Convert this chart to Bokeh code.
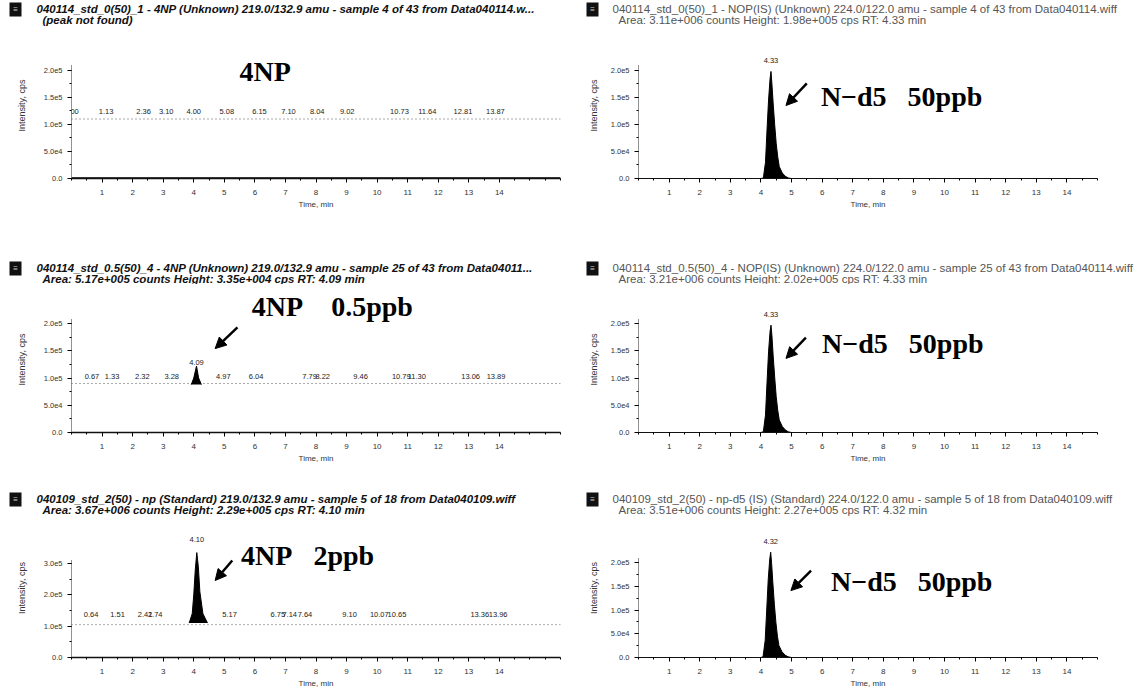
from bokeh.plotting import figure
from bokeh.models import (ColumnDataSource, LabelSet, Label, Arrow, NormalHead,
                          FixedTicker, CustomJSTickFormatter, Range1d, BoxAnnotation)
from bokeh.core.properties import value
from bokeh.layouts import column, row
from bokeh.embed import file_html
from bokeh.resources import INLINE

# ---------------- data ----------------
x_major_ticks = [1, 2, 3, 4, 5, 6, 7, 8, 9, 10, 11, 12, 13, 14]
y_ticks_std = [0, 50000, 100000, 150000, 200000]
y_ticks_bl = [0, 100000, 200000, 300000]

# Top-left: 4NP blank (peak not found)
tl_trace_time = [0.0, 16.0]
tl_trace_int = [0, 0]
tl_noise_time = [0.0, 16.0]
tl_noise_int = [110000, 110000]
tl_label_rt = [0.00, 1.13, 2.36, 3.10, 4.00, 5.08, 6.15, 7.10, 8.04, 9.02, 10.73, 11.64, 12.81, 13.87]
tl_label_int = [110000, 110000, 110000, 110000, 110000, 110000, 110000, 110000, 110000, 110000, 110000, 110000, 110000, 110000]
tl_label_txt = ["0.00", "1.13", "2.36", "3.10", "4.00", "5.08", "6.15", "7.10", "8.04", "9.02", "10.73", "11.64", "12.81", "13.87"]

# Middle-left: 4NP 0.5 ppb
ml_noise_time = [0.0, 16.0]
ml_noise_int = [90000, 90000]
ml_peak_time = [3.92, 4.00, 4.09, 4.16, 4.25]
ml_peak_int = [88000, 100000, 122000, 100000, 88000]
ml_label_rt = [0.67, 1.33, 2.32, 3.28, 4.97, 6.04, 7.79, 8.22, 9.46, 10.79, 11.30, 13.06, 13.89]
ml_label_int = [90000, 90000, 90000, 90000, 90000, 90000, 90000, 90000, 90000, 90000, 90000, 90000, 90000]
ml_label_txt = ["0.67", "1.33", "2.32", "3.28", "4.97", "6.04", "7.79", "8.22", "9.46", "10.79", "11.30", "13.06", "13.89"]
ml_apex = (4.09, 122000, "4.09")

# Bottom-left: 4NP 2 ppb
bl_noise_time = [0.0, 16.0]
bl_noise_int = [105000, 105000]
bl_peak_time = [3.85, 3.95, 4.00, 4.05, 4.10, 4.15, 4.20, 4.30, 4.45]
bl_peak_int = [110000, 140000, 200000, 280000, 335000, 290000, 210000, 140000, 110000]
bl_label_rt = [0.64, 1.51, 2.41, 2.74, 5.17, 6.75, 7.14, 7.64, 9.10, 10.07, 10.65, 13.36, 13.96]
bl_label_int = [105000, 105000, 105000, 105000, 105000, 105000, 105000, 105000, 105000, 105000, 105000, 105000, 105000]
bl_label_txt = ["0.64", "1.51", "2.41", "2.74", "5.17", "6.75", "7.14", "7.64", "9.10", "10.07", "10.65", "13.36", "13.96"]
bl_apex = (4.10, 335000, "4.10")

# Right column: N-d5 internal standard 50 ppb
is_time = [0.0, 4.00, 4.08, 4.15, 4.20, 4.25, 4.30, 4.33, 4.36, 4.40, 4.45, 4.50, 4.55, 4.60, 4.70, 4.80, 4.90, 5.00, 15.0]
tr_int = [0, 0, 1000, 30000, 90000, 145000, 185000, 198000, 175000, 140000, 100000, 65000, 40000, 22000, 10000, 4000, 1000, 0, 0]
mr_int = [0, 0, 1500, 32000, 92000, 148000, 186000, 197000, 178000, 142000, 102000, 66000, 41000, 23000, 11000, 4500, 1200, 0, 0]
br_time = [0.0, 4.00, 4.07, 4.14, 4.19, 4.24, 4.29, 4.32, 4.35, 4.39, 4.44, 4.49, 4.54, 4.59, 4.69, 4.79, 4.89, 5.00, 15.0]
br_int = [0, 0, 1500, 36000, 100000, 165000, 208000, 222000, 198000, 158000, 112000, 74000, 45000, 25000, 12000, 5000, 1500, 0, 0]
tr_apex = (4.33, 198000, "4.33")
mr_apex = (4.33, 197000, "4.33")
br_apex = (4.32, 222000, "4.32")

headers = {
    "TL": ("040114_std_0(50)_1 - 4NP (Unknown) 219.0/132.9 amu - sample 4 of 43 from Data040114.w...",
           "(peak not found)"),
    "TR": ("040114_std_0(50)_1 - NOP(IS) (Unknown) 224.0/122.0 amu - sample 4 of 43 from Data040114.wiff",
           "Area: 3.11e+006 counts Height: 1.98e+005 cps RT: 4.33 min"),
    "ML": ("040114_std_0.5(50)_4 - 4NP (Unknown) 219.0/132.9 amu - sample 25 of 43 from Data04011...",
           "Area: 5.17e+005 counts Height: 3.35e+004 cps RT: 4.09 min"),
    "MR": ("040114_std_0.5(50)_4 - NOP(IS) (Unknown) 224.0/122.0 amu - sample 25 of 43 from Data040114.wiff",
           "Area: 3.21e+006 counts Height: 2.02e+005 cps RT: 4.33 min"),
    "BL": ("040109_std_2(50) - np (Standard) 219.0/132.9 amu - sample 5 of 18 from Data040109.wiff",
           "Area: 3.67e+006 counts Height: 2.29e+005 cps RT: 4.10 min"),
    "BR": ("040109_std_2(50) - np-d5 (IS) (Standard) 224.0/122.0 amu - sample 5 of 18 from Data040109.wiff",
           "Area: 3.51e+006 counts Height: 2.27e+005 cps RT: 4.32 min"),
}

# ---------------- helpers ----------------
FMT = CustomJSTickFormatter(code="""
if (tick == 0) return "0.0";
const e = Math.floor(Math.log10(Math.abs(tick)) + 1e-9);
const m = tick / Math.pow(10, e);
return m.toFixed(1) + "e" + e;
""")

SANS = "Liberation Sans"
SERIF = "Liberation Serif"
NB = "\u00a0"


def header_fig(width, height, page_left, key, left_side, icon_top, l1_y, l2_y):
    h = figure(width=width, height=height, output_backend="svg", toolbar_location=None,
               x_range=Range1d(0, width), y_range=Range1d(0, height),
               x_axis_type=None, y_axis_type=None, min_border=0, frame_align=False)
    h.outline_line_color = None
    h.grid.visible = False
    icon_x = (9 if left_side else 586) - page_left
    text_x = (36 if left_side else 612) - page_left
    h.add_layout(BoxAnnotation(left=icon_x, right=icon_x + 12, top=height - icon_top,
                               bottom=height - icon_top - 14, fill_color="#111111",
                               fill_alpha=1.0, line_color=None))
    h.add_layout(Label(x=icon_x + 6, y=height - icon_top - 7, text="≡", text_color="#cccccc",
                       text_font=SANS, text_font_size="8px", text_align="center",
                       text_baseline="middle"))
    style = "bold italic" if left_side else "normal"
    col = "#111111" if left_side else "#555555"
    fs = "11.5px"
    l1, l2 = headers[key]
    h.add_layout(Label(x=text_x, y=height - l1_y, text=l1, text_font=SANS, text_font_size=fs,
                       text_font_style=style, text_color=col, text_baseline="middle",
                       text_align="left"))
    h.add_layout(Label(x=text_x + 6, y=height - l2_y, text=l2, text_font=SANS, text_font_size=fs,
                       text_font_style=style, text_color=col, text_baseline="middle",
                       text_align="left"))
    return h


def make_panel(width, height, b_left, b_right, frame_h, x_end, y_end, yticks, yminor,
               y_bound, left_side):
    b_top = 2
    b_bottom = height - b_top - frame_h
    p = figure(width=width, height=height, output_backend="svg", toolbar_location=None,
               x_range=Range1d(0, x_end), y_range=Range1d(0, y_end),
               min_border_left=b_left, min_border_right=b_right,
               min_border_top=b_top, min_border_bottom=b_bottom, frame_align=False)
    p.outline_line_color = None
    p.grid.visible = False

    xa = p.xaxis[0]
    xa.ticker = FixedTicker(ticks=x_major_ticks, minor_ticks=[i * 0.5 for i in range(0, 33)])
    xa.axis_label = "Time, min"
    xa.axis_label_text_font = SANS
    xa.axis_label_text_font_size = "8px"
    xa.axis_label_text_font_style = "normal"
    xa.axis_label_text_color = "#333333"
    xa.axis_label_standoff = 2
    xa.major_label_text_font = SANS
    xa.major_label_text_font_size = "8px"
    xa.major_label_text_color = "#333333"
    xa.major_label_standoff = 7
    xa.major_tick_out = 4
    xa.major_tick_in = 0
    xa.minor_tick_out = 2
    xa.minor_tick_in = 0
    xa.axis_line_width = 1.6 if left_side else 1.2
    xa.axis_line_color = "#111111"

    ya = p.yaxis[0]
    ya.ticker = FixedTicker(ticks=yticks, minor_ticks=yminor)
    ya.formatter = FMT
    ya.bounds = (0, y_bound)
    ya.axis_label = "Intensity, cps"
    ya.axis_label_text_font = SANS
    ya.axis_label_text_font_size = "9px"
    ya.axis_label_text_font_style = "normal"
    ya.axis_label_text_color = "#333333"
    ya.axis_label_standoff = 14 if left_side else 9
    ya.major_label_text_font = SANS
    ya.major_label_text_font_size = "7.5px"
    ya.major_label_text_color = "#333333"
    ya.major_label_standoff = 5
    ya.major_tick_out = 4
    ya.major_tick_in = 0
    ya.minor_tick_out = 2
    ya.minor_tick_in = 0
    ya.axis_line_dash = "1 1"
    ya.axis_line_color = "#222222"
    return p


def big_text(p, x, y, txt):
    p.add_layout(Label(x=x, y=y, text=txt, text_font=SERIF, text_font_size="28px",
                       text_font_style="bold", text_color="black",
                       text_baseline="middle", text_align="left"))


def arrow(p, xs, ys, xe, ye):
    p.add_layout(Arrow(end=NormalHead(size=11, fill_color="black", line_color="black"),
                       x_start=xs, y_start=ys, x_end=xe, y_end=ye,
                       line_width=2.5, line_color="black"))


def rt_labels(p, xs, ys, txts, yoff):
    src = ColumnDataSource(dict(x=xs, y=ys, t=txts))
    p.add_layout(LabelSet(x="x", y="y", text="t", source=src, y_offset=yoff,
                          text_font=value(SANS), text_font_size=value("7.5px"),
                          text_color="#222222", text_align="center", text_baseline="bottom"))


std_minor = [i * 25000 for i in range(0, 9)]
bl_minor = [i * 50000 for i in range(0, 7)]

LW, RW = 575, 560

# ---------------- row 1 ----------------
h_tl = header_fig(LW, 30, 0, "TL", True, 2, 8, 19)
h_tr = header_fig(RW, 30, 575, "TR", False, 2, 8, 19)
tl = make_panel(LW, 228, 71, 15, 146, 16.0, 270000, y_ticks_std, std_minor, 210000, True)
tl.line(tl_trace_time, tl_trace_int, line_color="black", line_width=2.5)
tl.line(tl_noise_time, tl_noise_int, line_color="#555555", line_width=1, line_dash="1 3")
rt_labels(tl, tl_label_rt, tl_label_int, tl_label_txt, 5)
big_text(tl, 5.5, 198000, "4NP")

tr = make_panel(RW, 228, 63, 38, 146, 15.0, 270000, y_ticks_std, std_minor, 210000, False)
tr.varea(x=is_time, y1=0, y2=tr_int, fill_color="black")
tr.line(is_time, tr_int, line_color="black", line_width=1)
rt_labels(tr, [tr_apex[0]], [tr_apex[1]], [tr_apex[2]], 8)
big_text(tr, 5.96, 152000, "N−d5" + NB * 3 + "50ppb")
arrow(tr, 5.5, 176000, 4.82, 135000)

# ---------------- row 2 ----------------
h_ml = header_fig(LW, 26, 0, "ML", True, 3, 9, 20)
h_mr = header_fig(RW, 26, 575, "MR", False, 3, 9, 20)
ml = make_panel(LW, 206, 71, 15, 146, 16.0, 268000, y_ticks_std, std_minor, 210000, True)
ml.line(ml_noise_time, ml_noise_int, line_color="#555555", line_width=1, line_dash="1 3")
ml.varea(x=ml_peak_time, y1=88000, y2=ml_peak_int, fill_color="black")
ml.line(ml_peak_time, ml_peak_int, line_color="black", line_width=1)
rt_labels(ml, ml_label_rt, ml_label_int, ml_label_txt, 4)
rt_labels(ml, [ml_apex[0]], [ml_apex[1]], [ml_apex[2]], 1)
big_text(ml, 5.9, 231000, "4NP" + NB * 4 + "0.5ppb")
arrow(ml, 5.43, 193000, 4.7, 154000)

mr = make_panel(RW, 206, 63, 38, 146, 15.0, 268000, y_ticks_std, std_minor, 210000, False)
mr.varea(x=is_time, y1=0, y2=mr_int, fill_color="black")
mr.line(is_time, mr_int, line_color="black", line_width=1)
rt_labels(mr, [mr_apex[0]], [mr_apex[1]], [mr_apex[2]], 8)
big_text(mr, 6.0, 163000, "N−d5" + NB * 3 + "50ppb")
arrow(mr, 5.47, 174000, 4.82, 136000)

# ---------------- row 3 ----------------
h_bl = header_fig(LW, 26, 0, "BL", True, 2, 8, 19)
h_br = header_fig(RW, 26, 575, "BR", False, 2, 8, 19)
bl = make_panel(LW, 175, 71, 15, 139, 16.0, 444000, y_ticks_bl, bl_minor, 310000, True)
bl.line(bl_noise_time, bl_noise_int, line_color="#555555", line_width=1, line_dash="1 3")
bl.varea(x=bl_peak_time, y1=110000, y2=bl_peak_int, fill_color="black")
bl.line(bl_peak_time, bl_peak_int, line_color="black", line_width=1)
rt_labels(bl, bl_label_rt, bl_label_int, bl_label_txt, 8)
rt_labels(bl, [bl_apex[0]], [bl_apex[1]], [bl_apex[2]], 11)
big_text(bl, 5.55, 326000, "4NP" + NB * 3 + "2ppb")
arrow(bl, 5.26, 310000, 4.7, 246000)

br = make_panel(RW, 175, 63, 38, 139, 15.0, 293000, y_ticks_std, std_minor, 210000, False)
br.varea(x=br_time, y1=0, y2=br_int, fill_color="black")
br.line(br_time, br_int, line_color="black", line_width=1)
rt_labels(br, [br_apex[0]], [br_apex[1]], [br_apex[2]], 8)
big_text(br, 6.29, 160000, "N−d5" + NB * 3 + "50ppb")
arrow(br, 5.64, 183000, 4.98, 141000)

layout = column(
    row(column(h_tl, tl), column(h_tr, tr)),
    row(column(h_ml, ml), column(h_mr, mr)),
    row(column(h_bl, bl), column(h_br, br)),
)

open("out.html", "w").write(file_html(layout, INLINE))
